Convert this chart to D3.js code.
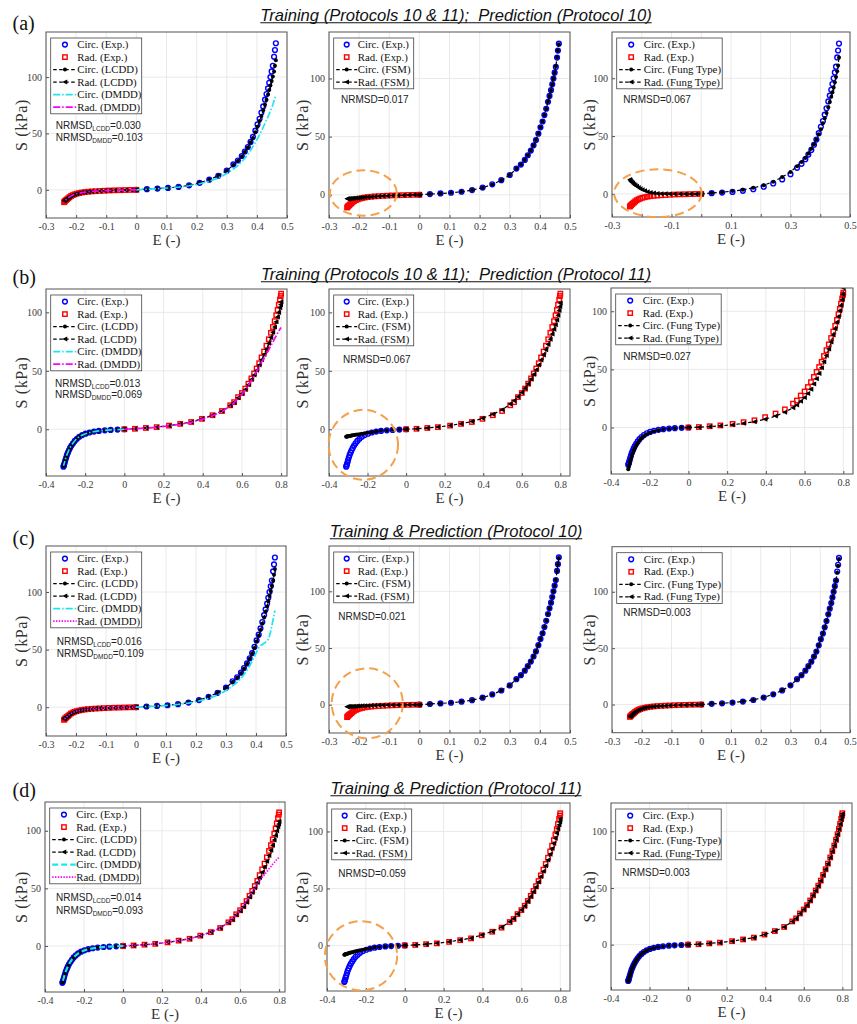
<!DOCTYPE html>
<html>
<head>
<meta charset="utf-8">
<script src="https://cdn.jsdelivr.net/npm/d3@7"></script>
<style>
  body { margin: 0; background: #fff; }
</style>
</head>
<body>
<svg id="chart" width="857" height="1024"></svg>
<script>
// ---- experimental data, protocol 10 (circ. positive, rad. negative)
const E10c = [0, 0.035, 0.07, 0.105, 0.14, 0.175, 0.21, 0.242, 0.272, 0.3, 0.322, 0.337, 0.35, 0.36, 0.37, 0.379, 0.387, 0.395, 0.402, 0.409, 0.415, 0.421, 0.427, 0.432, 0.437, 0.441, 0.445, 0.449, 0.453, 0.457, 0.46, 0.463];
const S10c = [0, 0.6, 1.1, 1.7, 2.6, 4, 6.2, 9, 12.5, 17, 22.5, 26, 30, 34, 38, 42.5, 47, 52.5, 58, 63, 68.5, 74, 80, 85, 90, 95, 100, 105, 110, 118, 124, 130];
const E10r = [0, -0.018, -0.036, -0.054, -0.072, -0.09, -0.106, -0.121, -0.135, -0.148, -0.16, -0.171, -0.181, -0.19, -0.198, -0.205, -0.211, -0.217, -0.222, -0.226, -0.23, -0.233, -0.236, -0.238, -0.24];
const S10r = [0, -0.1, -0.2, -0.33, -0.45, -0.6, -0.8, -1.0, -1.2, -1.4, -1.7, -2.0, -2.4, -2.9, -3.4, -4.0, -4.7, -5.5, -6.5, -7.5, -8.3, -9.0, -9.7, -10.3, -11.0];

// ---- experimental data, protocol 11 (circ. negative, rad. positive)
const E11c = [0, -0.035, -0.07, -0.1, -0.13, -0.155, -0.178, -0.198, -0.215, -0.23, -0.242, -0.253, -0.262, -0.27, -0.277, -0.283, -0.288, -0.293, -0.297, -0.301, -0.304, -0.307, -0.309, -0.311];
const S11c = [0, -0.3, -0.6, -0.9, -1.4, -2.0, -2.8, -3.8, -5.0, -6.5, -8.2, -10, -12, -14, -16, -18, -20, -22, -24.2, -26.4, -28.3, -30, -31.2, -32];
const E11r = [0, 0.054, 0.11, 0.165, 0.228, 0.285, 0.341, 0.396, 0.45, 0.498, 0.54, 0.56, 0.58, 0.6, 0.617, 0.633, 0.648, 0.662, 0.675, 0.688, 0.7, 0.713, 0.725, 0.737, 0.748, 0.758, 0.767, 0.775, 0.782, 0.788, 0.794, 0.798, 0.8];
const S11r = [0, 0.4, 1.1, 1.8, 3.1, 4.6, 6.2, 8.9, 12, 15.6, 20.5, 23.2, 27.5, 31, 34.8, 39, 43.5, 47.8, 52, 56.5, 61.5, 66.5, 71.5, 77, 82.5, 87.5, 92.5, 97.5, 102, 106.5, 111, 114, 116];

// ---- row (a) models
const lcddA_c = [0, 0.6, 1.1, 1.7, 2.6, 4, 6.2, 9, 12.5, 17, 22, 25.5, 29.5, 33.5, 37.5, 42, 46, 51, 56, 61, 65.5, 70.5, 75.5, 80, 84.5, 88.5, 92.5, 96.5, 100.5, 105, 110, 115];
const lcddA_r = [0, -0.1, -0.2, -0.33, -0.45, -0.6, -0.8, -1.0, -1.2, -1.45, -1.75, -2.05, -2.45, -2.9, -3.4, -3.95, -4.55, -5.3, -6.1, -6.9, -7.6, -8.2, -8.8, -9.3, -9.8];
const dmddA_c = [0, 0.5, 1.0, 1.6, 2.4, 3.6, 5.4, 7.6, 10.5, 14.5, 18.5, 21.5, 25, 28, 31.5, 35, 38.5, 42, 45.5, 49, 52, 55.5, 59, 62, 65, 67.5, 70, 72.5, 75.5, 79, 81.5, 84];
const dmddA_r = [0, -0.1, -0.2, -0.32, -0.45, -0.6, -0.8, -1.0, -1.2, -1.45, -1.75, -2.1, -2.5, -2.95, -3.45, -4.0, -4.65, -5.4, -6.3, -7.2, -8.0, -8.7, -9.4, -10.0, -10.6];
const fsmA_c = [0, 0.6, 1.1, 1.7, 2.6, 4, 6.1, 8.9, 12.4, 17, 22.4, 26, 30, 34, 38, 42.4, 47, 52.5, 58, 63, 68.5, 74, 80, 85, 90, 95, 100, 105, 110.5, 118, 124, 129.5];
const fsmA_r = [0, -0.1, -0.2, -0.35, -0.5, -0.7, -0.9, -1.1, -1.3, -1.5, -1.75, -2.0, -2.2, -2.4, -2.6, -2.75, -2.9, -3.0, -3.1, -3.2, -3.3, -3.35, -3.4, -3.45, -3.5];
const fungA_c = [0, 0.8, 1.5, 2.4, 3.5, 5.2, 7.5, 10.5, 14.5, 19, 24, 27.5, 31, 35, 39, 43, 47, 51.5, 56, 61, 65.5, 70, 75, 79.5, 84, 88, 92, 96.5, 101, 106, 111, 118];
const fungA_r = [0, 0, 0, 0, 0, 0, 0, 0.05, 0.15, 0.35, 0.7, 1.2, 1.9, 2.7, 3.6, 4.5, 5.5, 6.5, 7.5, 8.4, 9.3, 10, 10.8, 11.5, 12.5];

// ---- row (b) models
const lcddB_c = [0, -0.3, -0.6, -0.9, -1.4, -2.0, -2.8, -3.8, -5.0, -6.5, -8.2, -10, -12, -14, -16, -18, -20, -22, -24, -26, -28, -29.5, -30.5, -31.5];
const lcddB_r = [0, 0.4, 1.1, 1.8, 3.1, 4.6, 6.2, 8.9, 12, 15.6, 20.3, 23, 27, 30.5, 34, 38, 42.5, 46.5, 50.5, 55, 59.5, 64, 68.5, 73.5, 78.5, 83, 87.5, 92, 96, 100, 104, 106.5, 109];
const dmddB_c = [0, -0.3, -0.6, -0.95, -1.45, -2.05, -2.85, -3.8, -5.0, -6.4, -8.0, -9.8, -11.7, -13.7, -15.7, -17.7, -19.7, -21.7, -23.7, -25.7, -27.5, -29.2, -30.3, -31.2];
const dmddB_r = [0, 0.4, 1.0, 1.7, 2.9, 4.3, 5.9, 8.5, 11.6, 15.2, 19.8, 22.5, 26.5, 30, 33.6, 37.5, 41.6, 45.5, 49.5, 53.5, 57.5, 61, 64.5, 68, 71.5, 74.5, 77.5, 80, 82.2, 84, 85.6, 86.6, 87];
const fsmB_c = [0, -0.2, -0.45, -0.8, -1.3, -1.9, -2.6, -3.1, -3.5, -3.9, -4.2, -4.5, -4.8, -5.0, -5.2, -5.4, -5.6, -5.8, -5.9, -6.0, -6.1, -6.2, -6.3, -6.4];
const fsmB_r = [0, 0.4, 1.1, 1.9, 3.2, 4.8, 6.6, 9.4, 12.8, 16.7, 21.5, 24.3, 27.8, 31.5, 35, 39, 43, 47, 51, 55, 59.3, 63.5, 68, 72.5, 77, 81.5, 85.5, 89.5, 93.5, 97.5, 101.5, 105, 108];
const fungB_c = [0, -0.3, -0.6, -1.0, -1.6, -2.3, -3.3, -4.5, -5.9, -7.5, -9.3, -11.2, -13.3, -15.4, -17.6, -19.8, -22, -24.3, -26.6, -28.9, -31, -33, -34.5, -36];
const fungB_r = [0, 0.3, 0.8, 1.4, 2.4, 3.6, 5.0, 7.1, 9.8, 13.2, 17, 19.3, 22.5, 25.8, 29.3, 33, 37.5, 42, 46.5, 51.5, 56.5, 62, 67.5, 73.5, 79.5, 85, 90.5, 95.5, 100.5, 105, 110, 114.5, 120];

// ---- row (c) models
const lcddC_c = [0, 0.6, 1.1, 1.7, 2.6, 4, 6.2, 9, 12.5, 17, 22, 25.5, 29.5, 33.5, 37.5, 42, 46.5, 51.5, 57, 62, 67, 72.5, 78, 83, 87.5, 92, 96.5, 101, 105.5, 110, 115, 120];
const lcddC_r = [0, -0.1, -0.2, -0.33, -0.45, -0.6, -0.8, -1.0, -1.2, -1.45, -1.75, -2.05, -2.45, -2.9, -3.4, -3.95, -4.6, -5.35, -6.2, -7.1, -7.9, -8.6, -9.2, -9.7, -10.2];
const dmddC_c = [0, 0.5, 1.0, 1.6, 2.4, 3.6, 5.4, 7.6, 10.5, 14.5, 18.5, 21.5, 25, 28.5, 32, 36, 40, 44, 48, 51.5, 53.5, 54.5, 55.5, 56.5, 57.5, 59, 62, 66, 71, 76, 80, 84];
const dmddC_r = [0, -0.1, -0.2, -0.33, -0.45, -0.6, -0.8, -1.0, -1.2, -1.45, -1.75, -2.05, -2.45, -2.9, -3.4, -4.0, -4.7, -5.5, -6.4, -7.3, -8.1, -8.8, -9.5, -10.1, -10.7];
const fsmC_c = [0, 0.6, 1.1, 1.7, 2.6, 4, 6.2, 9, 12.5, 17, 22.5, 26, 30, 34, 38, 42.5, 47, 52.5, 58, 63, 68.5, 74, 80, 85, 90, 95, 100, 105, 110, 118, 124, 129.5];
const fsmC_r = [0, -0.05, -0.1, -0.16, -0.22, -0.3, -0.38, -0.47, -0.56, -0.66, -0.76, -0.86, -0.96, -1.06, -1.16, -1.26, -1.35, -1.44, -1.52, -1.58, -1.64, -1.69, -1.73, -1.77, -1.8];
const fungC_c = [0, 0.6, 1.1, 1.8, 2.7, 4.1, 6.3, 9.1, 12.6, 17, 22.4, 26, 30, 34, 38, 42.5, 47, 52.5, 58, 63, 68.5, 74, 80, 85, 90, 95, 100, 105, 110, 117, 123, 129];
const fungC_r = [0, -0.1, -0.2, -0.33, -0.46, -0.62, -0.82, -1.02, -1.22, -1.45, -1.75, -2.05, -2.45, -2.9, -3.4, -4.0, -4.65, -5.45, -6.4, -7.4, -8.2, -8.9, -9.6, -10.2, -10.9];

// ---- row (d) models
const lcddD_c = [0, -0.3, -0.6, -0.9, -1.4, -2.0, -2.8, -3.8, -5.0, -6.5, -8.2, -10, -12, -14, -16, -18, -20, -22, -24.1, -26.2, -28.1, -29.8, -31, -31.8];
const lcddD_r = [0, 0.4, 1.1, 1.8, 3.1, 4.6, 6.2, 8.9, 12, 15.6, 20.3, 23, 27, 30.5, 34, 38, 42.5, 46.5, 50.5, 55, 59.5, 64, 68.5, 73.5, 78.5, 83, 87.5, 92, 96, 100, 103.5, 106, 108];
const dmddD_c = [0, -0.3, -0.6, -0.95, -1.45, -2.05, -2.85, -3.85, -5.05, -6.5, -8.1, -9.9, -11.8, -13.8, -15.8, -17.8, -19.8, -21.8, -23.9, -26, -27.9, -29.6, -30.8, -31.6];
const dmddD_r = [0, 0.4, 1.1, 1.8, 3.1, 4.6, 6.2, 8.9, 12, 15.6, 20.5, 23.2, 27.5, 31, 34.8, 39, 43, 47, 50.5, 54, 57, 59.5, 62, 64.5, 67, 69, 71, 72.5, 74, 75, 76, 76.7, 77];
const fsmD_c = [0, -0.2, -0.5, -0.85, -1.35, -1.9, -2.6, -3.2, -3.7, -4.2, -4.7, -5.1, -5.5, -5.9, -6.2, -6.5, -6.8, -7.0, -7.3, -7.5, -7.7, -7.9, -8.0, -8.2];
const fsmD_r = [0, 0.4, 1.1, 1.9, 3.2, 4.7, 6.4, 9.1, 12.3, 16, 20.8, 23.5, 27.5, 31, 34.7, 38.7, 43, 47.2, 51.3, 55.7, 60.4, 65.2, 70, 75, 80, 85, 89.5, 94, 98.5, 102.5, 106, 108.5, 111];
const fungD_c = [0, -0.3, -0.6, -0.95, -1.45, -2.05, -2.9, -3.9, -5.1, -6.6, -8.3, -10.1, -12.1, -14.1, -16.1, -18.1, -20.1, -22.1, -24.3, -26.5, -28.4, -30.1, -31.3, -32.2];
const fungD_r = [0, 0.4, 1.1, 1.8, 3.1, 4.6, 6.2, 8.9, 12, 15.6, 20.4, 23.1, 27.4, 31, 34.8, 39, 43.5, 47.8, 52, 56.5, 61.5, 66.5, 71.5, 77, 82.5, 87.5, 92.5, 97.5, 102, 106.5, 110.5, 113.5, 115.5];

// ---- ticks and texts
const xTicks10 = [-0.3, -0.2, -0.1, 0, 0.1, 0.2, 0.3, 0.4, 0.5];
const xTicksOdd = [-0.3, -0.1, 0.1, 0.3, 0.5];
const xTicks11 = [-0.4, -0.2, 0, 0.2, 0.4, 0.6, 0.8];
const yTicks = [0, 50, 100];

const rowTitles = [
  'Training (Protocols 10 & 11);  Prediction (Protocol 10)',
  'Training (Protocols 10 & 11);  Prediction (Protocol 11)',
  'Training & Prediction (Protocol 10)',
  'Training & Prediction (Protocol 11)'
];
const rowLabels = ['(a)', '(b)', '(c)', '(d)'];
const legendLCDD = ['Circ. (Exp.)', 'Rad. (Exp.)', 'Circ. (LCDD)', 'Rad. (LCDD)', 'Circ. (DMDD)', 'Rad. (DMDD)'];
const legendFSM = ['Circ. (Exp.)', 'Rad. (Exp.)', 'Circ. (FSM)', 'Rad. (FSM)'];
const legendFung = ['Circ. (Exp.)', 'Rad. (Exp.)', 'Circ. (Fung Type)', 'Rad. (Fung Type)'];
const legendFungDash = ['Circ. (Exp.)', 'Rad. (Exp.)', 'Circ. (Fung-Type)', 'Rad. (Fung-Type)'];
const nrmsdLCDD = ['0.030', '0.013', '0.016', '0.014'];
const nrmsdDMDD = ['0.103', '0.069', '0.109', '0.093'];
const nrmsdFSM = ['0.017', '0.067', '0.021', '0.059'];
const nrmsdFung = ['0.067', '0.027', '0.003', '0.003'];

// ---- layout
const serif = '"Liberation Serif","Times New Roman",serif';
const sans = '"Liberation Sans",Arial,sans-serif';
const yLabelX = [21, 302, 589.5];
const legendW = [91, 80, 105.5];
const legendTextOff = [26.5, 24, 27];
const titleBase = [20.5, 279.5, 536.5, 793.5];
const labelBase = [30, 284, 545, 797];
const titleCx = 456;

const styles = {
  expC:      { marker: 'circle' },
  expR:      { marker: 'square' },
  modC:      { line: '#000', dash: '3.5,2.5', width: 1.2, marker: 'dot' },
  modR:      { line: '#000', dash: '3.5,2.5', width: 1.2, marker: 'tri' },
  dmddC:     { line: '#19E6F2', dash: '7,2,1.5,2', width: 1.7 },
  dmddCdash: { line: '#19E6F2', dash: '6,3', width: 2.2 },
  dmddR:     { line: '#FF00FF', dash: '7,2,1.5,2', width: 1.7 },
  dmddRdot:  { line: '#FF00FF', dash: '1.4,1.4', width: 1.7 }
};

const panels = [
  // row a
  { row: 0, col: 0, box: [46, 32, 287, 218], xd: [-0.3, 0.5], yd: [-25, 140], xt: xTicks10, xl: xTicks10,
    series: [[E10c, S10c, 'expC'], [E10r, S10r, 'expR'], [E10c, lcddA_c, 'modC'], [E10r, lcddA_r, 'modR'], [E10c, dmddA_c, 'dmddC'], [E10r, dmddA_r, 'dmddR']],
    legend: legendLCDD, nrmsd: [['LCDD', nrmsdLCDD[0], 129], ['DMDD', nrmsdDMDD[0], 140.5]], nx: 55.7 },
  { row: 0, col: 1, box: [329, 32, 570, 218], xd: [-0.3, 0.5], yd: [-20, 140], xt: xTicks10, xl: xTicks10,
    series: [[E10c, S10c, 'expC'], [E10r, S10r, 'expR'], [E10c, fsmA_c, 'modC'], [E10r, fsmA_r, 'modR']],
    legend: legendFSM, nrmsd: [[null, nrmsdFSM[0], 103.3]], nx: 341,
    ellipse: { cx: -0.186, cy: 1.5, rx: 0.111, ry: 19.5 } },
  { row: 0, col: 2, box: [612, 32, 850, 217], xd: [-0.3, 0.5], yd: [-20, 140], xt: xTicks10, xl: xTicksOdd,
    series: [[E10c, S10c, 'expC'], [E10r, S10r, 'expR'], [E10c, fungA_c, 'modC'], [E10r, fungA_r, 'modR']],
    legend: legendFung, nrmsd: [[null, nrmsdFung[0], 102.7]], nx: 623.3,
    ellipse: { cx: -0.146, cy: 0.6, rx: 0.147, ry: 20.7 } },
  // row b
  { row: 1, col: 0, box: [46, 289, 287, 476], xd: [-0.4, 0.83], yd: [-40, 120], xt: xTicks11, xl: xTicks11,
    series: [[E11c, S11c, 'expC'], [E11r, S11r, 'expR'], [E11c, lcddB_c, 'modC'], [E11r, lcddB_r, 'modR'], [E11c, dmddB_c, 'dmddC'], [E11r, dmddB_r, 'dmddR']],
    legend: legendLCDD, nrmsd: [['LCDD', nrmsdLCDD[1], 386.5], ['DMDD', nrmsdDMDD[1], 397.8]], nx: 55 },
  { row: 1, col: 1, box: [329, 289, 570, 476], xd: [-0.4, 0.85], yd: [-40, 120], xt: xTicks11, xl: xTicks11,
    series: [[E11c, S11c, 'expC'], [E11r, S11r, 'expR'], [E11c, fsmB_c, 'modC'], [E11r, fsmB_r, 'modR']],
    legend: legendFSM, nrmsd: [[null, nrmsdFSM[1], 363]], nx: 343,
    ellipse: { cx: -0.222, cy: -13.3, rx: 0.18, ry: 29.9 } },
  { row: 1, col: 2, box: [611, 288, 853, 474], xd: [-0.4, 0.85], yd: [-40, 120], xt: xTicks11, xl: xTicks11,
    series: [[E11c, S11c, 'expC'], [E11r, S11r, 'expR'], [E11c, fungB_c, 'modC'], [E11r, fungB_r, 'modR']],
    legend: legendFung, nrmsd: [[null, nrmsdFung[1], 360]], nx: 623.3 },
  // row c
  { row: 2, col: 0, box: [46, 546, 286, 736], xd: [-0.3, 0.5], yd: [-25, 140], xt: xTicks10, xl: xTicks10,
    series: [[E10c, S10c, 'expC'], [E10r, S10r, 'expR'], [E10c, lcddC_c, 'modC'], [E10r, lcddC_r, 'modR'], [E10c, dmddC_c, 'dmddC'], [E10r, dmddC_r, 'dmddRdot']],
    legend: legendLCDD, nrmsd: [['LCDD', nrmsdLCDD[2], 645], ['DMDD', nrmsdDMDD[2], 656.5]], nx: 56.7 },
  { row: 2, col: 1, box: [329, 546, 570, 733], xd: [-0.3, 0.5], yd: [-25, 140], xt: xTicks10, xl: xTicks10,
    series: [[E10c, S10c, 'expC'], [E10r, S10r, 'expR'], [E10c, fsmC_c, 'modC'], [E10r, fsmC_r, 'modR']],
    legend: legendFSM, nrmsd: [[null, nrmsdFSM[2], 620]], nx: 338.3,
    ellipse: { cx: -0.173, cy: 1.2, rx: 0.118, ry: 30.9 } },
  { row: 2, col: 2, box: [612, 546.7, 850, 732.7], xd: [-0.3, 0.5], yd: [-25, 140], xt: xTicks10, xl: xTicks10,
    series: [[E10c, S10c, 'expC'], [E10r, S10r, 'expR'], [E10c, fungC_c, 'modC'], [E10r, fungC_r, 'modR']],
    legend: legendFung, nrmsd: [[null, nrmsdFung[2], 616]], nx: 623.3 },
  // row d
  { row: 3, col: 0, box: [45, 802, 285, 992], xd: [-0.4, 0.83], yd: [-40, 125], xt: xTicks11, xl: xTicks11,
    series: [[E11c, S11c, 'expC'], [E11r, S11r, 'expR'], [E11c, lcddD_c, 'modC'], [E11r, lcddD_r, 'modR'], [E11c, dmddD_c, 'dmddCdash'], [E11r, dmddD_r, 'dmddRdot']],
    legend: legendLCDD, nrmsd: [['LCDD', nrmsdLCDD[3], 901], ['DMDD', nrmsdDMDD[3], 913.5]], nx: 56 },
  { row: 3, col: 1, box: [327, 803, 570, 991], xd: [-0.4, 0.85], yd: [-40, 125], xt: xTicks11, xl: xTicks11,
    series: [[E11c, S11c, 'expC'], [E11r, S11r, 'expR'], [E11c, fsmD_c, 'modC'], [E11r, fsmD_r, 'modR']],
    legend: legendFSM, nrmsd: [[null, nrmsdFSM[3], 876.5]], nx: 338.3,
    ellipse: { cx: -0.225, cy: -9.1, rx: 0.186, ry: 30.4 } },
  { row: 3, col: 2, box: [611, 803, 852, 990], xd: [-0.4, 0.85], yd: [-40, 125], xt: xTicks11, xl: xTicks11,
    series: [[E11c, S11c, 'expC'], [E11r, S11r, 'expR'], [E11c, fungD_c, 'modC'], [E11r, fungD_r, 'modR']],
    legend: legendFungDash, nrmsd: [[null, nrmsdFung[3], 875.5]], nx: 622.3 }
];

const svg = d3.select('#chart');

function fmtTick(d) {
  return String(+d.toFixed(1));
}

function drawMarkers(g, pts, kind) {
  const sel = g.selectAll(null).data(pts).enter();
  if (kind === 'circle') {
    sel.append('circle').attr('cx', d => d[0]).attr('cy', d => d[1]).attr('r', 2.4)
      .attr('fill', 'none').attr('stroke', '#0000FF').attr('stroke-width', 1.4);
  } else if (kind === 'square') {
    sel.append('rect').attr('x', d => d[0] - 2.2).attr('y', d => d[1] - 2.2)
      .attr('width', 4.4).attr('height', 4.4)
      .attr('fill', 'none').attr('stroke', '#FF0000').attr('stroke-width', 1.4);
  } else if (kind === 'dot') {
    sel.append('circle').attr('cx', d => d[0]).attr('cy', d => d[1]).attr('r', 2).attr('fill', '#000');
  } else if (kind === 'tri') {
    sel.append('path').attr('d', 'M-2.8,0L2.3,-2.5L2.3,2.5Z')
      .attr('transform', d => `translate(${d[0]},${d[1]})`).attr('fill', '#000');
  }
}

function drawPanel(p) {
  const [x0, y0, x1, y1] = p.box;
  const x = d3.scaleLinear().domain(p.xd).range([x0, x1]);
  const y = d3.scaleLinear().domain(p.yd).range([y1, y0]);
  const g = svg.append('g');

  // grid
  g.append('g').selectAll('line').data(p.xt).join('line')
    .attr('x1', d => x(d)).attr('x2', d => x(d)).attr('y1', y0).attr('y2', y1)
    .attr('stroke', '#e4e4e4').attr('stroke-width', 0.8);
  g.append('g').selectAll('line').data(yTicks).join('line')
    .attr('x1', x0).attr('x2', x1).attr('y1', d => y(d)).attr('y2', d => y(d))
    .attr('stroke', '#e4e4e4').attr('stroke-width', 0.8);

  // axes
  const ax = g.append('g').attr('transform', `translate(0,${y1})`)
    .call(d3.axisBottom(x).tickValues(p.xt)
      .tickFormat(d => p.xl.some(v => Math.abs(v - d) < 1e-9) ? fmtTick(d) : '')
      .tickSizeInner(-3).tickSizeOuter(0).tickPadding(5));
  const ay = g.append('g').attr('transform', `translate(${x0},0)`)
    .call(d3.axisLeft(y).tickValues(yTicks).tickFormat(d3.format('d'))
      .tickSizeInner(-3).tickSizeOuter(0).tickPadding(4));
  [ax, ay].forEach(a => {
    a.select('.domain').remove();
    a.selectAll('line').attr('stroke', '#555');
    a.selectAll('text').attr('font-family', serif).attr('font-size', 10).attr('fill', '#3a3a3a');
  });

  // clip
  const clipId = `clip-${p.row}-${p.col}`;
  svg.append('clipPath').attr('id', clipId).append('rect')
    .attr('x', x0).attr('y', y0).attr('width', x1 - x0).attr('height', y1 - y0);
  const plot = g.append('g').attr('clip-path', `url(#${clipId})`);

  const line = d3.line().x(d => d[0]).y(d => d[1]);
  p.series.forEach(([E, S, kind]) => {
    const st = styles[kind];
    const pts = E.map((e, i) => [x(e), y(S[i])]);
    if (st.line) {
      plot.append('path').attr('d', line(pts)).attr('fill', 'none')
        .attr('stroke', st.line).attr('stroke-width', st.width).attr('stroke-dasharray', st.dash);
    }
    if (st.marker) drawMarkers(plot, pts, st.marker);
  });

  // box
  g.append('rect').attr('x', x0).attr('y', y0).attr('width', x1 - x0).attr('height', y1 - y0)
    .attr('fill', 'none').attr('stroke', '#555').attr('stroke-width', 1);

  // axis labels
  g.append('text').attr('x', (x0 + x1) / 2).attr('y', y1 + 27).attr('text-anchor', 'middle')
    .attr('font-family', serif).attr('font-size', 15).attr('fill', '#333').text('E (-)');
  g.append('text').attr('transform', `translate(${yLabelX[p.col]},${(y0 + y1) / 2}) rotate(-90)`)
    .attr('dy', '0.35em').attr('text-anchor', 'middle')
    .attr('font-family', serif).attr('font-size', 16).attr('letter-spacing', 0.6)
    .attr('fill', '#333').text('S (kPa)');

  // legend
  const lx = x0 + 4.7, ly = y0 + 6, rowH = 12.5;
  const lw = legendW[p.col], toff = legendTextOff[p.col];
  const lg = g.append('g');
  lg.append('rect').attr('x', lx).attr('y', ly).attr('width', lw).attr('height', p.legend.length * rowH + 0.8)
    .attr('fill', '#fff').attr('stroke', '#444').attr('stroke-width', 0.8);
  p.legend.forEach((lab, i) => {
    const kind = p.series[i][2];
    const st = styles[kind];
    const cy = ly + 6.6 + i * rowH;
    const sx0 = lx + 2.5, sx1 = lx + toff - 0.5;
    if (st.line) {
      lg.append('line').attr('x1', sx0).attr('x2', sx1).attr('y1', cy).attr('y2', cy)
        .attr('stroke', st.line).attr('stroke-width', st.width).attr('stroke-dasharray', st.dash);
    }
    if (st.marker) drawMarkers(lg, [[(sx0 + sx1) / 2, cy]], st.marker);
    lg.append('text').attr('x', lx + toff).attr('y', cy + 3.6)
      .attr('font-family', serif).attr('font-size', 10.8).attr('fill', '#111').text(lab);
  });

  // NRMSD annotation
  p.nrmsd.forEach(([sub, val, base]) => {
    const t = g.append('text').attr('x', p.nx).attr('y', base)
      .attr('font-family', sans).attr('font-size', 10).attr('fill', '#222');
    t.append('tspan').text('NRMSD');
    if (sub) t.append('tspan').attr('font-size', 6.5).attr('dy', 2).text(sub);
    t.append('tspan').attr('dy', sub ? -2 : 0).text('=' + val);
  });

  // highlight ellipse
  if (p.ellipse) {
    const e = p.ellipse;
    g.append('ellipse').attr('cx', x(e.cx)).attr('cy', y(e.cy))
      .attr('rx', x(e.cx + e.rx) - x(e.cx)).attr('ry', y(e.cy) - y(e.cy + e.ry))
      .attr('fill', 'none').attr('stroke', '#F5A04A').attr('stroke-width', 2)
      .attr('stroke-dasharray', '9,5');
  }
}

panels.forEach(drawPanel);

// row titles and labels
rowTitles.forEach((t, i) => {
  const txt = svg.append('text').attr('x', titleCx).attr('y', titleBase[i])
    .attr('text-anchor', 'middle').attr('font-family', sans).attr('font-style', 'italic')
    .attr('font-size', 16.6).attr('fill', '#111').style('white-space', 'pre').text(t);
  const bb = txt.node().getBBox();
  svg.append('line').attr('x1', bb.x).attr('x2', bb.x + bb.width)
    .attr('y1', titleBase[i] + 2.3).attr('y2', titleBase[i] + 2.3)
    .attr('stroke', '#111').attr('stroke-width', 1.1);
  svg.append('text').attr('x', 12.5).attr('y', labelBase[i])
    .attr('font-family', serif).attr('font-size', 20).attr('fill', '#111').text(rowLabels[i]);
});
</script>
</body>
</html>
